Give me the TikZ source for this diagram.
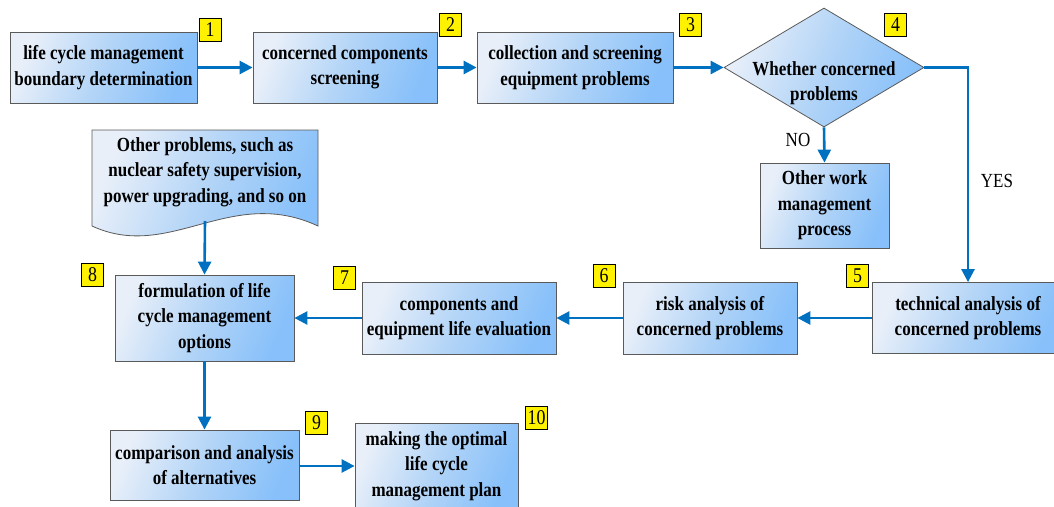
\documentclass[tikz,border=0pt]{standalone}
\usepackage{fontspec}
\setmainfont{Liberation Serif}
\newfontfamily\boxfont{Liberation Serif}[FakeStretch=0.85]
\usetikzlibrary{arrows.meta,shapes.geometric}
\definecolor{arrowblue}{RGB}{0,112,192}
\definecolor{boxL}{RGB}{232,239,249}
\definecolor{boxM}{RGB}{178,212,247}
\definecolor{boxR}{RGB}{135,192,250}
\definecolor{edgegray}{RGB}{90,90,90}
\tikzset{
  x=1pt, y=-1pt,
  blueshade/.style={top color=boxL, bottom color=boxR, middle color=boxM, shading angle=68},
  procbox/.style={draw=edgegray, line width=0.8pt, blueshade,
    align=center, inner sep=0pt, font=\boxfont\fontsize{20}{25.5}\selectfont\bfseries},
  numtag/.style={draw=black, line width=0.6pt, fill=yellow, inner sep=1.5pt,
    minimum width=22pt, minimum height=23pt, font=\boxfont\fontsize{21}{21}\selectfont},
  flow/.style={draw=arrowblue, line width=2.6pt, -{Triangle[length=13pt,width=13pt]}},
  plainlbl/.style={font=\boxfont\fontsize{20}{20}\selectfont},
  boldtxt/.style={align=center, font=\boxfont\fontsize{20}{25.5}\selectfont\bfseries}
}
\begin{document}
\begin{tikzpicture}
\useasboundingbox (0,0) rectangle (1054,506);
% top row
\node[procbox, minimum width=187pt, minimum height=71pt] (b1) at (103.5,67.5) {life cycle management\\boundary determination};
\node[procbox, minimum width=184pt, minimum height=71pt] (b2) at (345,67.5) {concerned components\\screening};
\node[procbox, minimum width=196pt, minimum height=71pt] (b3) at (575,67.5) {collection and screening\\equipment problems};
\node[diamond, draw=edgegray, line width=0.8pt, blueshade,
      minimum width=200pt, minimum height=119pt, inner sep=0pt, aspect=1.68] (d4) at (824,67.5) {};
\node[boldtxt] (d4t) at (824,83) {Whether concerned\\problems};
\node[procbox, minimum width=129pt, minimum height=85pt] (ow) at (824.5,205.5) {Other work\\management\\process};
% number tags
\node[numtag] (n1) at (210,29.5) {1};
\node[numtag] (n2) at (450.5,24.5) {2};
\node[numtag] (n3) at (690.5,24.5) {3};
\node[numtag] (n4) at (895.5,25) {4};
\node[numtag] (n5) at (857.5,275.5) {5};
\node[numtag] (n6) at (604,275.5) {6};
\node[numtag] (n7) at (344.5,277.5) {7};
\node[numtag] (n8) at (92.5,275) {8};
\node[numtag] (n9) at (316.5,423) {9};
\node[numtag] (n10) at (536.5,417.5) {10};
% middle row
\node[procbox, minimum width=192pt, minimum height=71pt] (b5) at (968,318) {technical analysis of\\concerned problems};
\node[procbox, minimum width=174pt, minimum height=72pt] (b6) at (710,318) {risk analysis of\\concerned problems};
\node[procbox, minimum width=194pt, minimum height=72pt] (b7) at (459,318) {components and\\equipment life evaluation};
\node[procbox, minimum width=179pt, minimum height=86pt] (b8) at (204.5,318) {formulation of life\\cycle management\\options};
% document shape
\path[draw=edgegray, line width=0.8pt, blueshade]
  (92,130) -- (318,130) -- (318,226) .. controls (230,185) and (170,262) .. (92,226) -- cycle;
\node[boldtxt] (doc) at (205,172) {Other problems, such as\\nuclear safety supervision,\\power upgrading, and so on};
\coordinate (docb) at (205,221);
% bottom row
\node[procbox, minimum width=189pt, minimum height=70pt] (b9) at (204.5,465) {comparison and analysis\\of alternatives};
\node[procbox, minimum width=163pt, minimum height=86pt] (b10) at (436.5,466) {making the optimal\\life cycle\\management plan};
% labels
\node[plainlbl] (no) at (798,140) {NO};
\node[plainlbl] (yes) at (997,181) {YES};
% connectors
\draw[flow] (b1.east) -- (b2.west);
\draw[flow] (b2.east) -- (b3.west);
\draw[flow] (b3.east) -- (d4.west);
\draw[flow] (d4.south) -- (ow.north);
\draw[flow] (d4.east) -| (b5.north);
\draw[flow] (b5.west) -- (b6.east);
\draw[flow] (b6.west) -- (b7.east);
\draw[flow] (b7.west) -- (b8.east);
\draw[flow] (docb) -- (b8.north);
\draw[flow] (b8.south) -- (b9.north);
\draw[flow] (b9.east |- b10.west) -- (b10.west);
\end{tikzpicture}
\end{document}
